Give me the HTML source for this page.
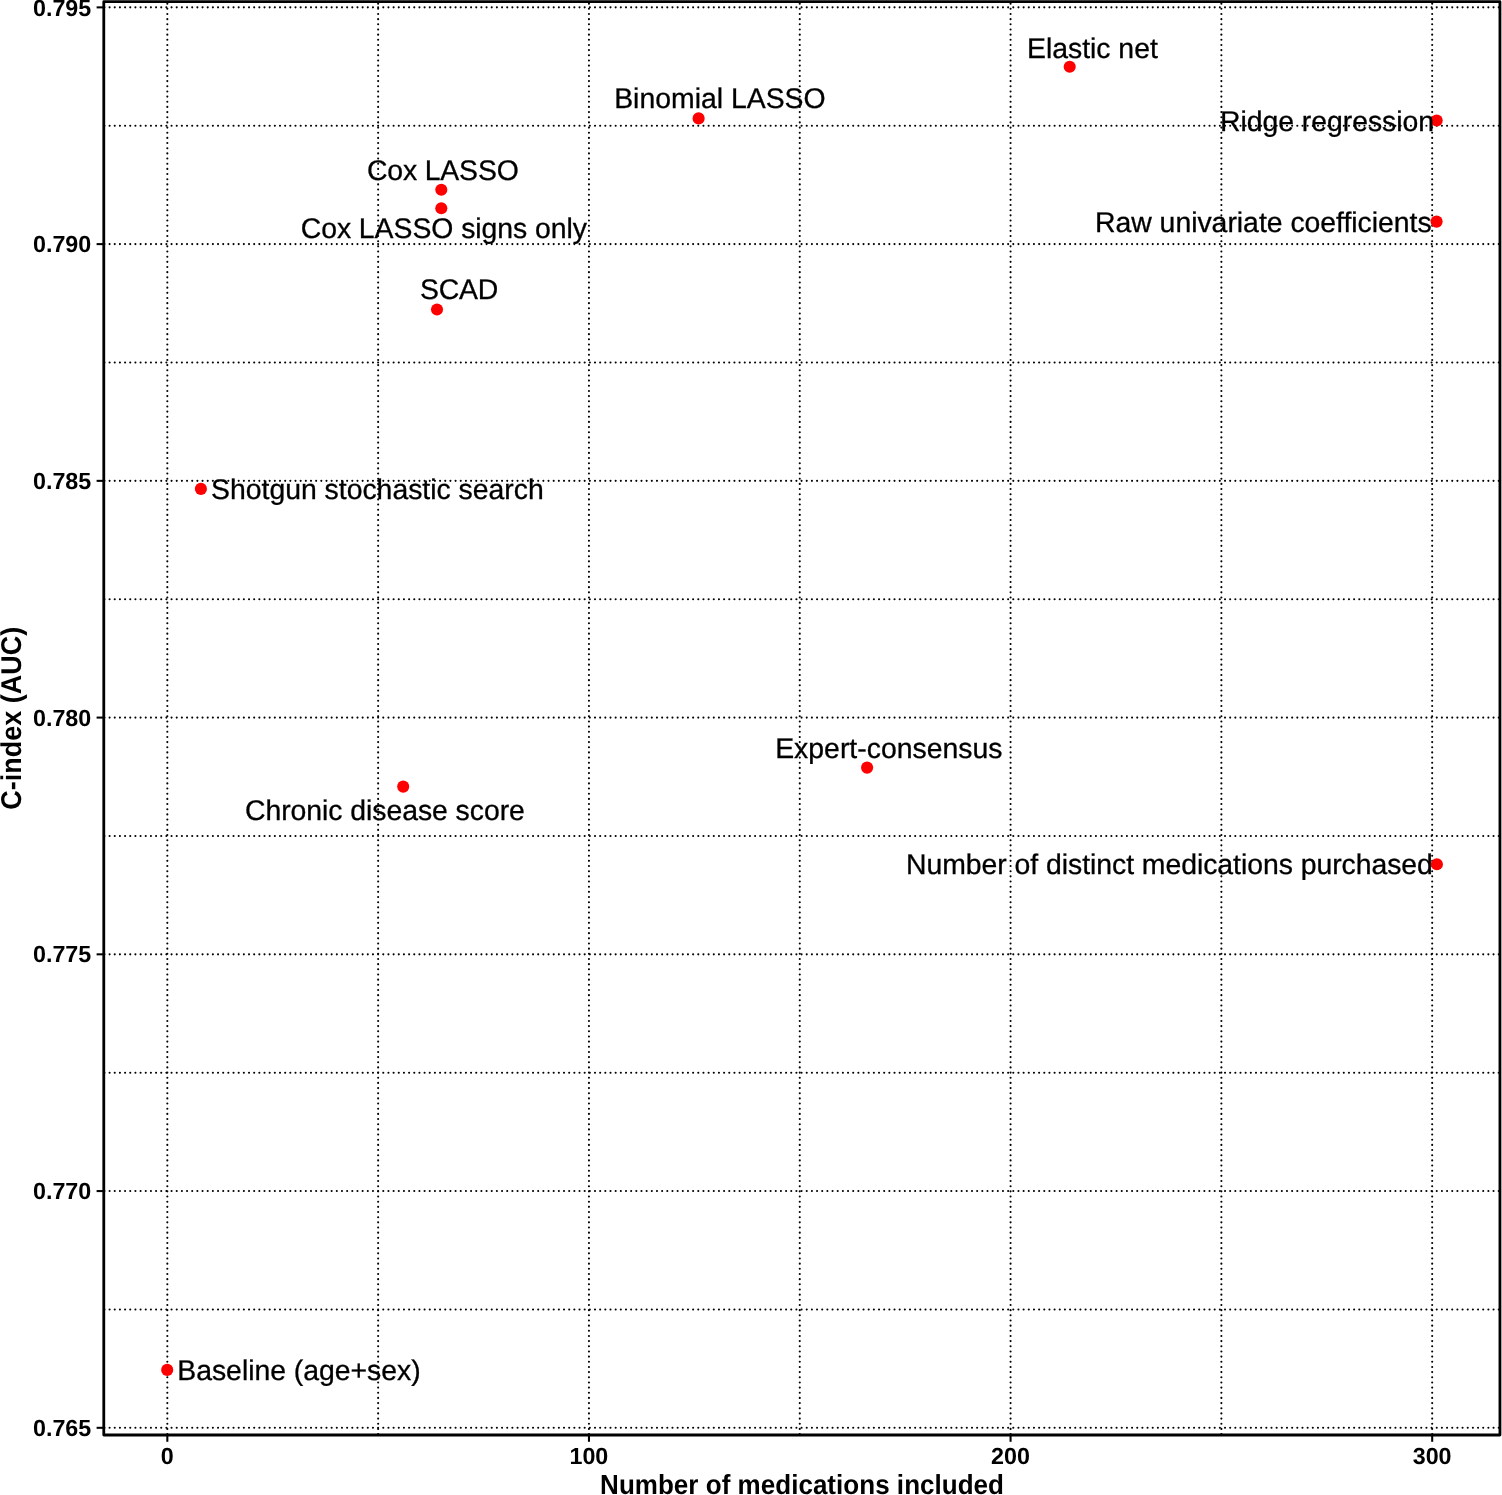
<!DOCTYPE html>
<html><head><meta charset="utf-8"><title>C-index (AUC) vs number of medications included</title>
<style>html,body{margin:0;padding:0;background:#fff;overflow:hidden;}svg{display:block;}
text{font-family:"Liberation Sans",Arial,Helvetica,sans-serif;text-rendering:geometricPrecision;}</style></head>
<body><svg width="1502" height="1495" viewBox="0 0 1502 1495">
<rect width="1502" height="1495" fill="#fff"/>
<g stroke="#000" stroke-width="2.1" stroke-linecap="round" stroke-dasharray="0.001 5.163" fill="none"><line x1="104.43" y1="7.37" x2="1499.95" y2="7.37"/><line x1="104.43" y1="125.74" x2="1499.95" y2="125.74"/><line x1="104.43" y1="244.11" x2="1499.95" y2="244.11"/><line x1="104.43" y1="362.48" x2="1499.95" y2="362.48"/><line x1="104.43" y1="480.85" x2="1499.95" y2="480.85"/><line x1="104.43" y1="599.22" x2="1499.95" y2="599.22"/><line x1="104.43" y1="717.59" x2="1499.95" y2="717.59"/><line x1="104.43" y1="835.96" x2="1499.95" y2="835.96"/><line x1="104.43" y1="954.33" x2="1499.95" y2="954.33"/><line x1="104.43" y1="1072.70" x2="1499.95" y2="1072.70"/><line x1="104.43" y1="1191.07" x2="1499.95" y2="1191.07"/><line x1="104.43" y1="1309.44" x2="1499.95" y2="1309.44"/><line x1="104.43" y1="1427.81" x2="1499.95" y2="1427.81"/><line x1="167.33" y1="3.64" x2="167.33" y2="1435.00"/><line x1="378.14" y1="3.64" x2="378.14" y2="1435.00"/><line x1="588.95" y1="3.64" x2="588.95" y2="1435.00"/><line x1="799.76" y1="3.64" x2="799.76" y2="1435.00"/><line x1="1010.57" y1="3.64" x2="1010.57" y2="1435.00"/><line x1="1221.38" y1="3.64" x2="1221.38" y2="1435.00"/><line x1="1432.19" y1="3.64" x2="1432.19" y2="1435.00"/></g>
<g fill="#f00"><circle cx="1069.7" cy="66.8" r="6.05"/><circle cx="698.6" cy="118.4" r="6.05"/><circle cx="1436.7" cy="120.5" r="6.05"/><circle cx="441.3" cy="189.8" r="6.05"/><circle cx="441.3" cy="208.2" r="6.05"/><circle cx="1436.6" cy="221.6" r="6.05"/><circle cx="437.0" cy="309.5" r="6.05"/><circle cx="200.9" cy="488.9" r="6.05"/><circle cx="403.2" cy="786.6" r="6.05"/><circle cx="867.1" cy="767.6" r="6.05"/><circle cx="1436.9" cy="864.3" r="6.05"/><circle cx="167.2" cy="1369.9" r="6.05"/></g>
<g font-size="28.4" fill="#000" stroke="#000" stroke-width="0.3"><text transform="translate(1027.05,57.77) scale(1,1.0)" textLength="130.74" lengthAdjust="spacing">Elastic net</text><text transform="translate(614.20,107.90) scale(1,1.0)" textLength="211.45" lengthAdjust="spacing">Binomial LASSO</text><text transform="translate(1220.10,130.70) scale(1,1.0)" textLength="213.88" lengthAdjust="spacing">Ridge regression</text><text transform="translate(366.90,180.00) scale(1,1.0)" textLength="151.88" lengthAdjust="spacing">Cox LASSO</text><text transform="translate(300.70,238.00) scale(1,1.0)" textLength="286.26" lengthAdjust="spacing">Cox LASSO signs only</text><text transform="translate(1095.00,231.80) scale(1,1.0)" textLength="336.67" lengthAdjust="spacing">Raw univariate coefficients</text><text transform="translate(420.00,298.80) scale(1,1.0)" textLength="78.22" lengthAdjust="spacing">SCAD</text><text transform="translate(211.10,498.60) scale(1,1.0)" textLength="332.58" lengthAdjust="spacing">Shotgun stochastic search</text><text transform="translate(245.00,819.60) scale(1,1.0)" textLength="279.84" lengthAdjust="spacing">Chronic disease score</text><text transform="translate(775.20,757.90) scale(1,1.0)" textLength="227.25" lengthAdjust="spacing">Expert-consensus</text><text transform="translate(906.00,874.00) scale(1,1.0)" textLength="526.9" lengthAdjust="spacing">Number of distinct medications purchased</text><text transform="translate(177.30,1379.70) scale(1,1.0)" textLength="243.31" lengthAdjust="spacing">Baseline (age+sex)</text></g>
<rect x="103.78" y="1.7" width="1396.17" height="1433.30" fill="none" stroke="#000" stroke-width="2.8" stroke-linejoin="round"/>
<g stroke="#000" stroke-width="2.05"><line x1="96.6" y1="7.37" x2="103.78" y2="7.37"/><line x1="96.6" y1="244.11" x2="103.78" y2="244.11"/><line x1="96.6" y1="480.85" x2="103.78" y2="480.85"/><line x1="96.6" y1="717.59" x2="103.78" y2="717.59"/><line x1="96.6" y1="954.33" x2="103.78" y2="954.33"/><line x1="96.6" y1="1191.07" x2="103.78" y2="1191.07"/><line x1="96.6" y1="1427.81" x2="103.78" y2="1427.81"/><line x1="167.33" y1="1435.00" x2="167.33" y2="1441.8"/><line x1="588.95" y1="1435.00" x2="588.95" y2="1441.8"/><line x1="1010.57" y1="1435.00" x2="1010.57" y2="1441.8"/><line x1="1432.19" y1="1435.00" x2="1432.19" y2="1441.8"/></g>
<g font-size="23.3" font-weight="bold" fill="#000"><text x="91.28" y="16" text-anchor="end">0.795</text><text x="91.28" y="252" text-anchor="end">0.790</text><text x="91.28" y="489" text-anchor="end">0.785</text><text x="91.28" y="726" text-anchor="end">0.780</text><text x="91.28" y="962" text-anchor="end">0.775</text><text x="91.28" y="1199" text-anchor="end">0.770</text><text x="91.28" y="1436" text-anchor="end">0.765</text><text x="160.83" y="1463.55">0</text><text x="569.45" y="1463.55">100</text><text x="991.07" y="1463.55">200</text><text x="1412.69" y="1463.55">300</text></g>
<text transform="translate(600.10,1493.85) scale(1,1.06)" font-size="26" font-weight="bold" textLength="403.88" lengthAdjust="spacing">Number of medications included</text>
<text transform="translate(20.6,809.80) rotate(-90) scale(1,1.06)" font-size="27" font-weight="bold" textLength="183.11" lengthAdjust="spacing">C-index (AUC)</text>
</svg></body></html>
